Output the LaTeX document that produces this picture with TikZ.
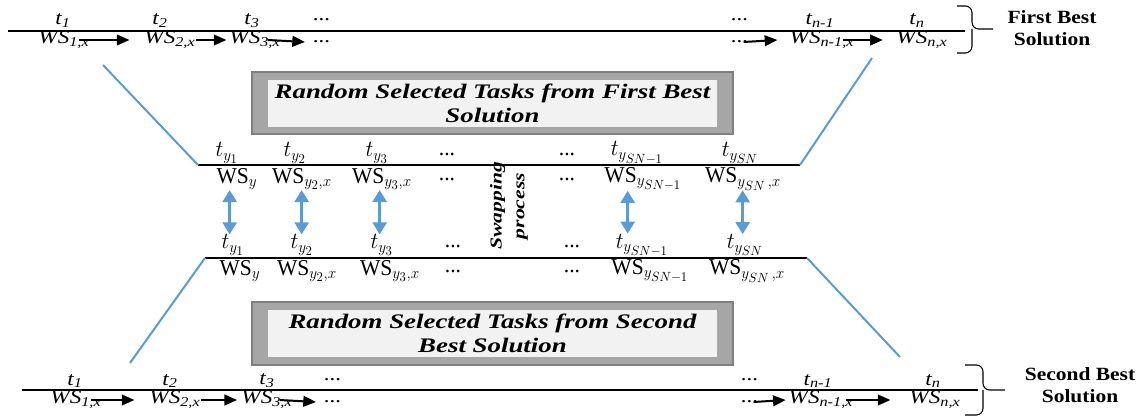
\documentclass[tikz,border=0pt]{standalone}
\usepackage{fontspec}
\setmainfont{Liberation Serif}
\usetikzlibrary{arrows.meta,calc,positioning}
\DeclareMathSizes{17}{17}{12}{10}
\definecolor{swapblue}{RGB}{91,155,213}
\definecolor{boxgray}{RGB}{166,166,166}
\definecolor{boxedge}{RGB}{127,127,127}
\definecolor{boxinner}{RGB}{242,242,242}

\begin{document}
\begin{tikzpicture}[x=0.75pt,y=-0.75pt,>=Triangle,
  every node/.style={inner sep=0pt},
  seq/.style={font=\itshape\fontsize{14.5}{16}\selectfont,xscale=1.2},
  sel/.style={font=\fontsize{17}{19}\selectfont,xscale=0.95},
  best/.style={font=\bfseries\fontsize{14}{16}\selectfont,align=center,
    xscale=1.15},
  boxtext/.style={font=\bfseries\itshape\fontsize{15.5}{18}\selectfont,
    align=center,xscale=1.3},
  flow/.style={-{Triangle[length=9.5pt,width=8pt]},line width=1.5pt},
  swaparrow/.style={{Triangle[length=9pt,width=10.5pt]}-{Triangle[length=9pt,width=10.5pt]},
    line width=2pt,swapblue},
  link/.style={swapblue,line width=1.5pt},
  brk/.style={line width=0.8pt,rounded corners=5pt}]
 \useasboundingbox (0,0) rectangle (1138,416);

 \draw[line width=1.5pt] (8,31) -- (965,31);
 \node[seq] (ft1) at (63,21) {t\textsubscript{1}};
 \node[seq] (ft2) at (160,21) {t\textsubscript{2}};
 \node[seq] (ft3) at (252,21) {t\textsubscript{3}};
 \node[seq] (ftd) at (322,20) {...};
 \node[seq] (fw1) at (64,40) {WS\textsubscript{1,x}};
 \node[seq] (fw2) at (170,40) {WS\textsubscript{2,x}};
 \node[seq] (fw3) at (255,40) {WS\textsubscript{3,x}};
 \node[seq] (fwd) at (322,42) {...};
 \node[seq] (ftdd) at (740,20) {...};
 \node[seq] (ftm) at (820,21) {t\textsubscript{n-1}};
 \node[seq] (ftn) at (917,21) {t\textsubscript{n}};
 \node[seq] (fwdd) at (740,42) {...};
 \node[seq] (fwm) at (822,40) {WS\textsubscript{n-1,x}};
 \node[seq] (fwn) at (922,40) {WS\textsubscript{n,x}};
 \draw[flow] ([xshift=-8pt]fw1.east) -- ([xshift=-11pt]fw2.west);
 \draw[flow] (fw2.east) -- ([xshift=-2pt]fw3.west);
 \draw[flow] ([xshift=-10pt]fw3.east) -- ([xshift=-6pt]fwd.west);
 \draw[flow] ([xshift=-4pt]fwdd.east) -- ([xshift=-9pt]fwm.west);
 \draw[flow] ([xshift=-9pt]fwm.east) -- ([xshift=-10pt]fwn.west);
 \draw[brk] (957,6) -| (972,29) -- (993,29);
 \draw[brk] (957,53) -| (972,29);
 \node[best] (first) at (1052,28) {First Best\\Solution};

 \node[draw=boxedge,line width=1pt,fill=boxgray,minimum width=360.75pt,
  minimum height=46.5pt] (selbox1) at (492.5,103) {};
 \node[fill=boxinner,minimum width=336.75pt,minimum height=35.25pt]
  (selfill1) at (492.5,103.5) {};
 \node[boxtext] (seltxt1) at (selfill1) {Random Selected Tasks from First Best\\Solution};

 \coordinate (ul) at (198,165);
 \coordinate (ur) at (800,165);
 \coordinate (ll) at (205,258);
 \coordinate (lr) at (807,258);
 \draw[line width=0.8pt] (ul) -- (ur);
 \draw[line width=0.8pt] (ll) -- (lr);
 \draw[line width=2pt] (482,165) -- (543,165);
 \draw[line width=2pt] (482,258) -- (543,258);

 \node[sel] (ut1) at (227,153) {$t_{y_1}$};
 \node[sel] (ut2) at (295,153) {$t_{y_2}$};
 \node[sel] (ut3) at (377,153) {$t_{y_3}$};
 \node[sel] (utd) at (447,154) {...};
 \node[sel] (utdd) at (567,154) {...};
 \node[sel] (ut4) at (637,153) {$t_{y_{SN-1}}$};
 \node[sel] (ut5) at (740,153) {$t_{y_{SN}}$};
 \node[sel] (uw1) at (237,179) {$\mathrm{WS}_{y}$};
 \node[sel] (uw2) at (302,179) {$\mathrm{WS}_{y_2,x}$};
 \node[sel] (uw3) at (382,179) {$\mathrm{WS}_{y_3,x}$};
 \node[sel] (uwd) at (447,179) {...};
 \node[sel] (uwdd) at (567,179) {...};
 \node[sel] (uw4) at (643,179) {$\mathrm{WS}_{y_{SN-1}}$};
 \node[sel] (uw5) at (743,179) {$\mathrm{WS}_{y_{SN}\,,x}$};

 \node[sel] (lt1) at (233,245) {$t_{y_1}$};
 \node[sel] (lt2) at (302,245) {$t_{y_2}$};
 \node[sel] (lt3) at (382,245) {$t_{y_3}$};
 \node[sel] (ltd) at (453,246) {...};
 \node[sel] (ltdd) at (572,246) {...};
 \node[sel] (lt4) at (642,245) {$t_{y_{SN-1}}$};
 \node[sel] (lt5) at (745,245) {$t_{y_{SN}}$};
 \node[sel] (lw1) at (240,271) {$\mathrm{WS}_{y}$};
 \node[sel] (lw2) at (307,271) {$\mathrm{WS}_{y_2,x}$};
 \node[sel] (lw3) at (390,271) {$\mathrm{WS}_{y_3,x}$};
 \node[sel] (lwd) at (453,271) {...};
 \node[sel] (lwdd) at (572,271) {...};
 \node[sel] (lw4) at (650,271) {$\mathrm{WS}_{y_{SN-1}}$};
 \node[sel] (lw5) at (747,271) {$\mathrm{WS}_{y_{SN}\,,x}$};

 \foreach \k/\dx in {1/2,2/5,3/2,4/-7,5/2}
  \draw[swaparrow] ([xshift=\dx pt]ut\k |- uw\k.south)
   -- ([xshift=\dx pt]ut\k |- lt\k.north);

 \node[font=\bfseries\itshape\fontsize{12.5}{17}\selectfont,align=center,
  rotate=90,xscale=1.3] (swap) at (509,206) {Swapping\\process};

 \node[draw=boxedge,line width=1pt,fill=boxgray,minimum width=360.75pt,
  minimum height=47.25pt] (selbox2) at (492.5,333.5) {};
 \node[fill=boxinner,minimum width=336.75pt,minimum height=35.25pt]
  (selfill2) at (492.5,333.5) {};
 \node[boxtext] (seltxt2) at (selfill2) {Random Selected Tasks from Second\\Best Solution};

 \draw[link] (103,65) -- (ul);
 \draw[link] (872,58) -- (ur);
 \draw[link] (130,363) -- (ll);
 \draw[link] (900,357) -- (lr);

 \draw[line width=1.5pt] (22,390) -- (978,390);
 \node[seq] (st1) at (75,381) {t\textsubscript{1}};
 \node[seq] (st2) at (170,381) {t\textsubscript{2}};
 \node[seq] (st3) at (267,381) {t\textsubscript{3}};
 \node[seq] (std) at (333,380) {...};
 \node[seq] (sw1) at (76,400) {WS\textsubscript{1,x}};
 \node[seq] (sw2) at (175,400) {WS\textsubscript{2,x}};
 \node[seq] (sw3) at (267,400) {WS\textsubscript{3,x}};
 \node[seq] (swd) at (333,402) {...};
 \node[seq] (stdd) at (750,380) {...};
 \node[seq] (stm) at (818,381) {t\textsubscript{n-1}};
 \node[seq] (stn) at (933,381) {t\textsubscript{n}};
 \node[seq] (swdd) at (750,402) {...};
 \node[seq] (swm) at (821,400) {WS\textsubscript{n-1,x}};
 \node[seq] (swn) at (935,400) {WS\textsubscript{n,x}};
 \draw[flow] ([xshift=-8pt]sw1.east) -- ([xshift=-11pt]sw2.west);
 \draw[flow] (sw2.east) -- ([xshift=-3pt]sw3.west);
 \draw[flow] ([xshift=-10pt]sw3.east) -- ([xshift=-6pt]swd.west);
 \draw[flow] ([xshift=-4pt]swdd.east) -- ([xshift=-2pt]swm.west);
 \draw[flow] ([xshift=-6pt]swm.east) -- ([xshift=-14pt]swn.west);
 \draw[brk] (965,365) -| (983,390) -- (1005,390);
 \draw[brk] (965,415) -| (983,390);
 \node[best] (second) at (1080,385) {Second Best\\Solution};
\end{tikzpicture}
\end{document}
